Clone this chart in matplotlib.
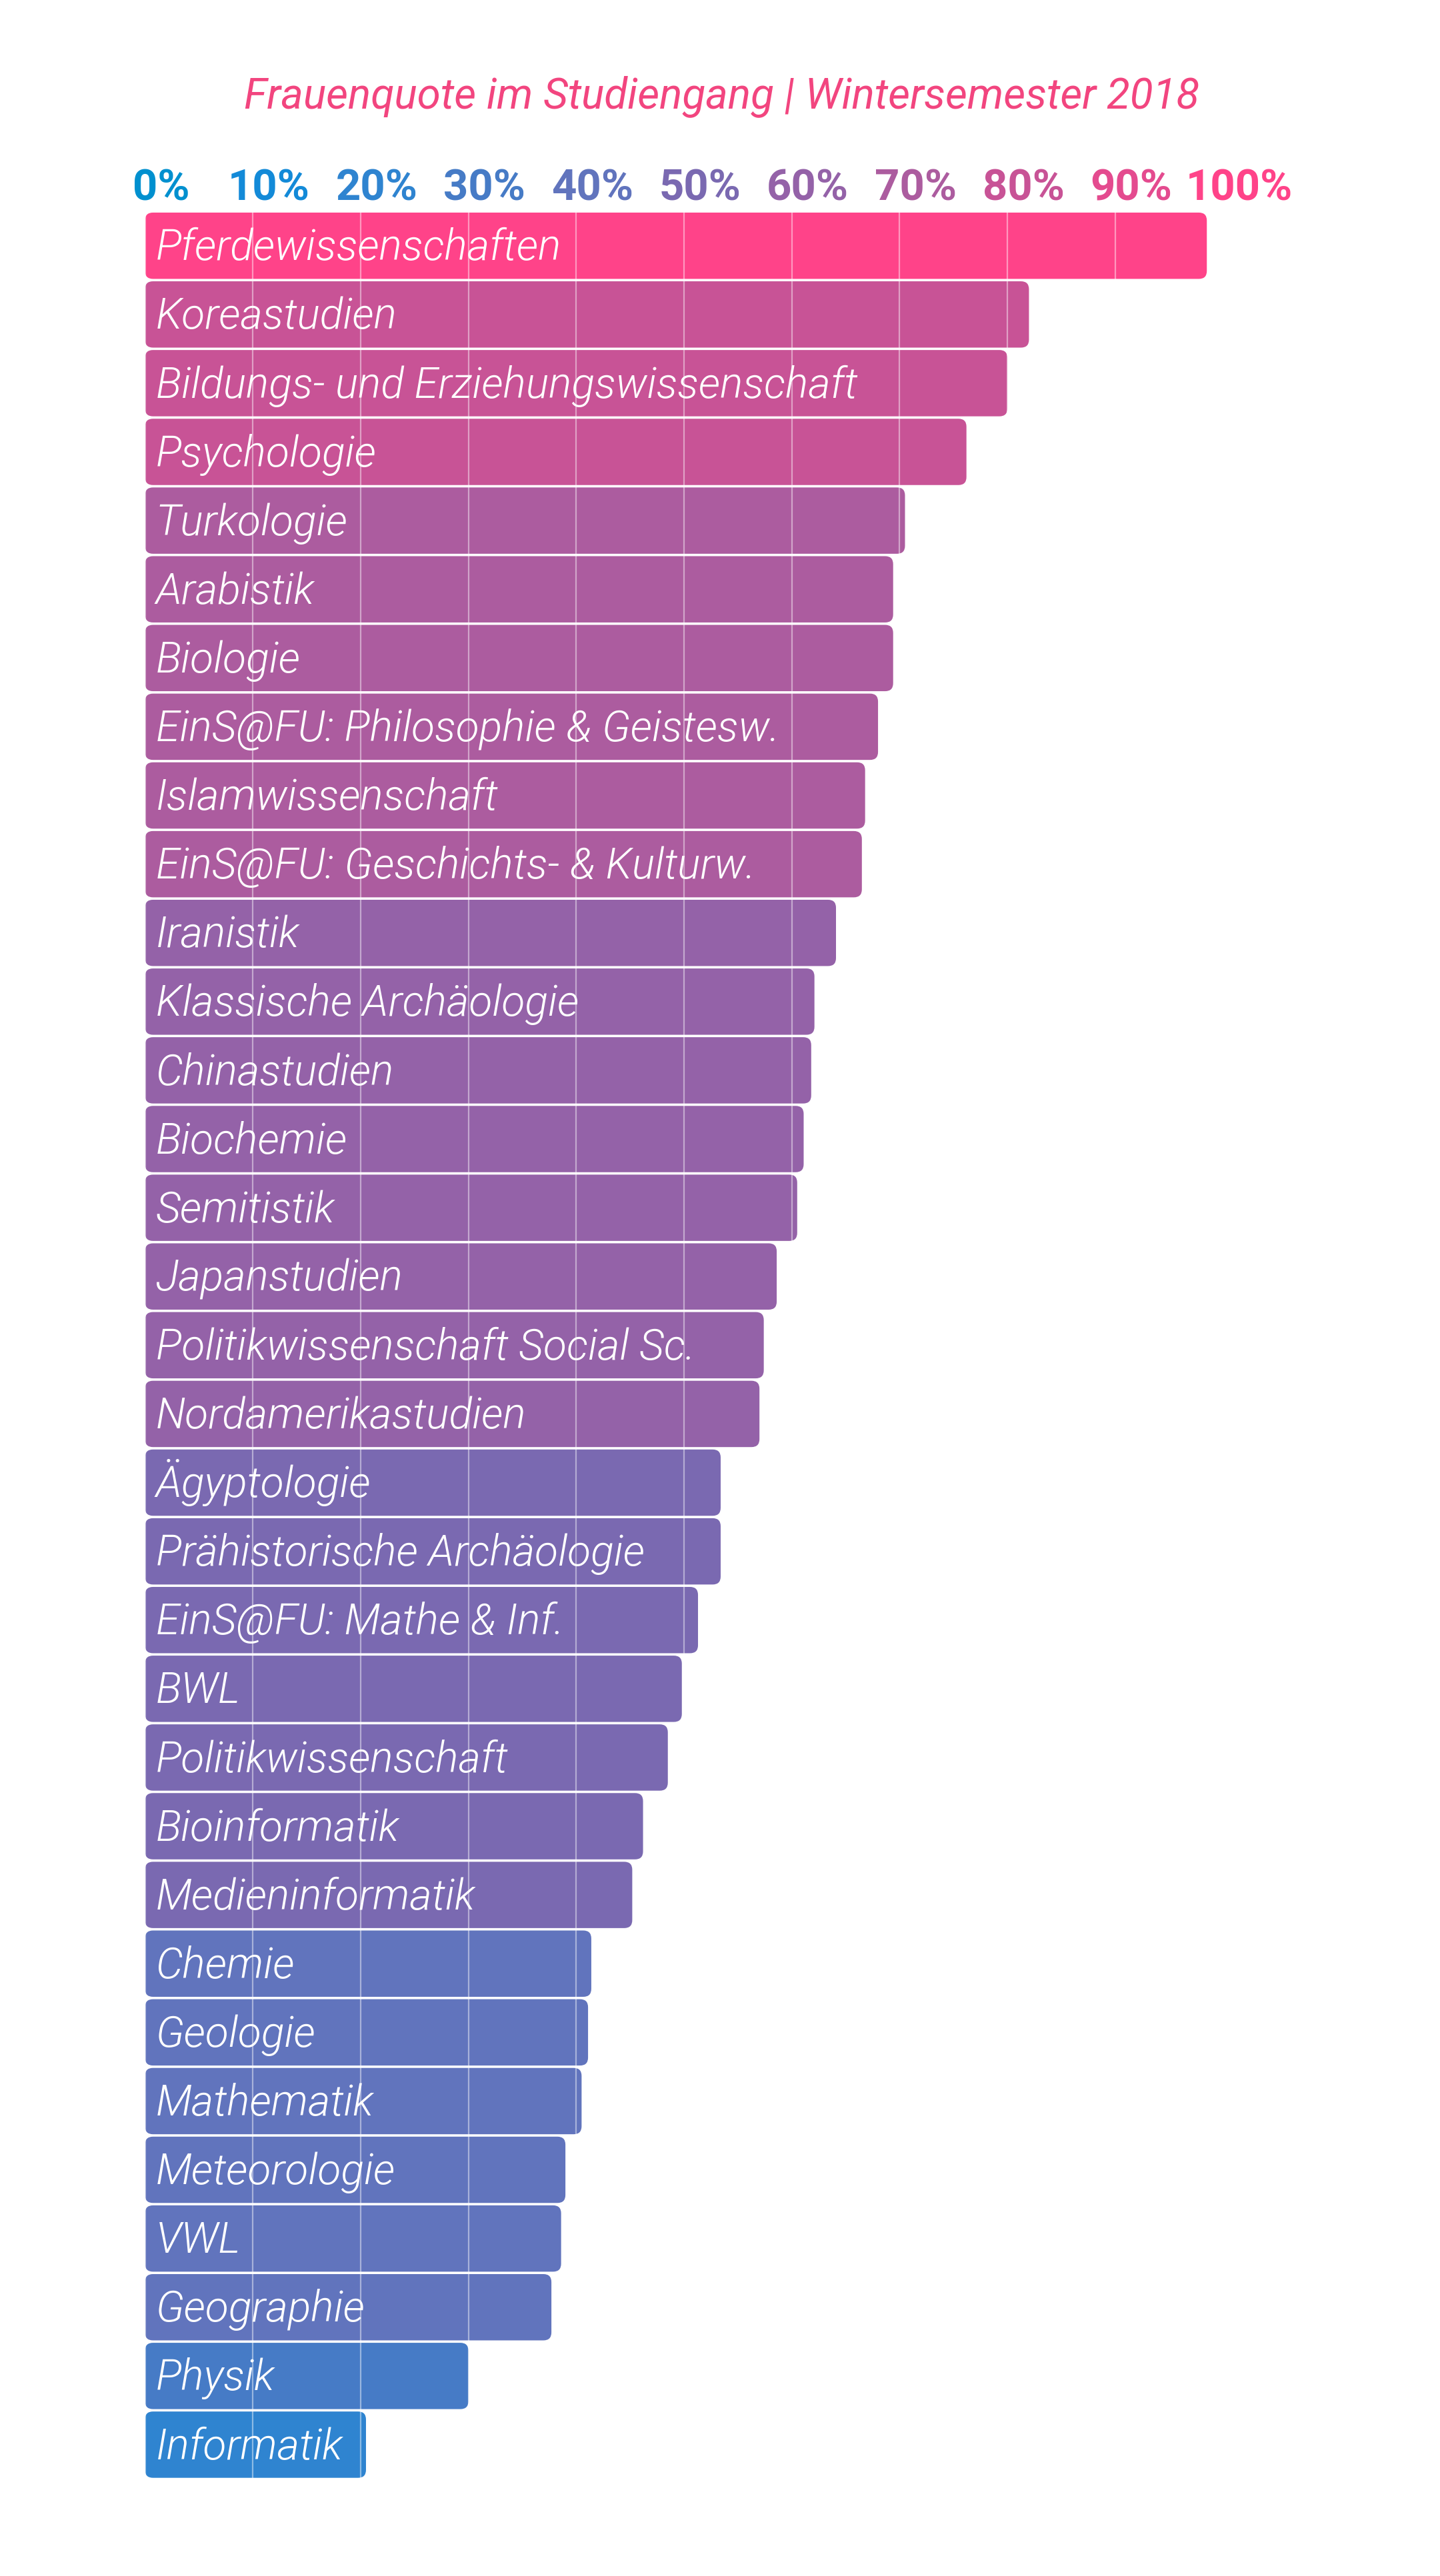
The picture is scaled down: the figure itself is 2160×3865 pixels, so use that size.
import matplotlib
matplotlib.use("Agg")
import matplotlib.pyplot as plt
import matplotlib.transforms as mtransforms
from matplotlib.patches import FancyBboxPatch, BoxStyle

plt.rcParams['font.family'] = ['Roboto', 'DejaVu Sans']

title = "Frauenquote im Studiengang | Wintersemester 2018"

categories = [
    "Pferdewissenschaften", "Koreastudien", "Bildungs- und Erziehungswissenschaft",
    "Psychologie", "Turkologie", "Arabistik", "Biologie",
    "EinS@FU: Philosophie & Geistesw.", "Islamwissenschaft",
    "EinS@FU: Geschichts- & Kulturw.", "Iranistik", "Klassische Archäologie",
    "Chinastudien", "Biochemie", "Semitistik", "Japanstudien",
    "Politikwissenschaft Social Sc.", "Nordamerikastudien", "Ägyptologie",
    "Prähistorische Archäologie", "EinS@FU: Mathe & Inf.", "BWL",
    "Politikwissenschaft", "Bioinformatik", "Medieninformatik", "Chemie",
    "Geologie", "Mathematik", "Meteorologie", "VWL", "Geographie", "Physik",
    "Informatik",
]
values = [
    98.5, 82.0, 80.0, 76.2, 70.5, 69.4, 69.4, 68.0, 66.8, 66.5, 64.1, 62.1,
    61.8, 61.1, 60.5, 58.6, 57.4, 57.0, 53.4, 53.4, 51.3, 49.8, 48.5, 46.2,
    45.2, 41.4, 41.1, 40.5, 39.0, 38.6, 37.7, 30.0, 20.5,
]
tick_values = [0, 10, 20, 30, 40, 50, 60, 70, 80, 90, 100]
tick_labels = ["0%", "10%", "20%", "30%", "40%", "50%", "60%", "70%", "80%", "90%", "100%"]
tick_colors = ["#0090cf", "#138ad8", "#2f84d0", "#467bc6", "#6174bd", "#7a69b1",
               "#9462a8", "#ac5c9f", "#c85396", "#e44b8f", "#ff4389"]

W, H = 2160, 3866
fig = plt.figure(figsize=(W / 100, H / 100), dpi=100)
fig.patch.set_facecolor("white")

x0_px, x100_px = 217.5, 1834.5
top_px, bot_px = 318.15, 3720.5
ax = fig.add_axes([x0_px / W, (H - bot_px) / H, (x100_px - x0_px) / W, (bot_px - top_px) / H])
ax.set_xlim(0, 100)
n = len(categories)
ax.set_ylim(n - 0.5, -0.5)
for s in ax.spines.values():
    s.set_visible(False)
ax.set_xticks(tick_values)
ax.set_xticklabels([])
ax.set_yticks([])
ax.tick_params(length=0)
ax.set_facecolor("none")

px_per_x = (x100_px - x0_px) / 100.0
px_per_y = (bot_px - top_px) / n
radius_px = 12
aspect = px_per_x / px_per_y

bar_h = 0.965
ypos = list(range(n))
bar_colors = [tick_colors[int(v / 10 + 0.5)] for v in values]
bars = ax.barh(ypos, values, height=bar_h, color=bar_colors)
for b, c in zip(bars, bar_colors):
    b.set_visible(False)
    patch = FancyBboxPatch((b.get_x(), b.get_y()), b.get_width(), b.get_height(),
                           boxstyle=BoxStyle.Round(pad=0, rounding_size=radius_px / px_per_x),
                           mutation_aspect=aspect, facecolor=c, edgecolor="none",
                           zorder=1)
    ax.add_patch(patch)

ax.grid(axis="x", color="white", alpha=0.45, linewidth=1.6)
ax.set_axisbelow(False)
for gl in ax.get_xgridlines():
    gl.set_zorder(2.5)

# bar labels
lab_tr = ax.transData + mtransforms.ScaledTranslation(0.16, 0, fig.dpi_scale_trans)
for i, lab in enumerate(categories):
    ax.text(0, i + 0.2, lab, transform=lab_tr, ha="left", va="baseline",
            color="white", fontsize=46.3, fontweight=300, style="italic", zorder=4)

# tick labels on top
tk_tr = mtransforms.blended_transform_factory(ax.transData, fig.transFigure) + \
    mtransforms.ScaledTranslation(0.24, 0, fig.dpi_scale_trans)
for v, t, c in zip(tick_values, tick_labels, tick_colors):
    fig.text(v, 1 - 300.5 / H, t, transform=tk_tr, ha="center", va="baseline",
             color=c, fontsize=47, fontweight="bold")

fig.text(1082 / W, 1 - 162 / H, title, ha="center", va="baseline", color="#f2457f",
         fontsize=46, style="italic")

fig.savefig("out.png", dpi=100, facecolor="white")
